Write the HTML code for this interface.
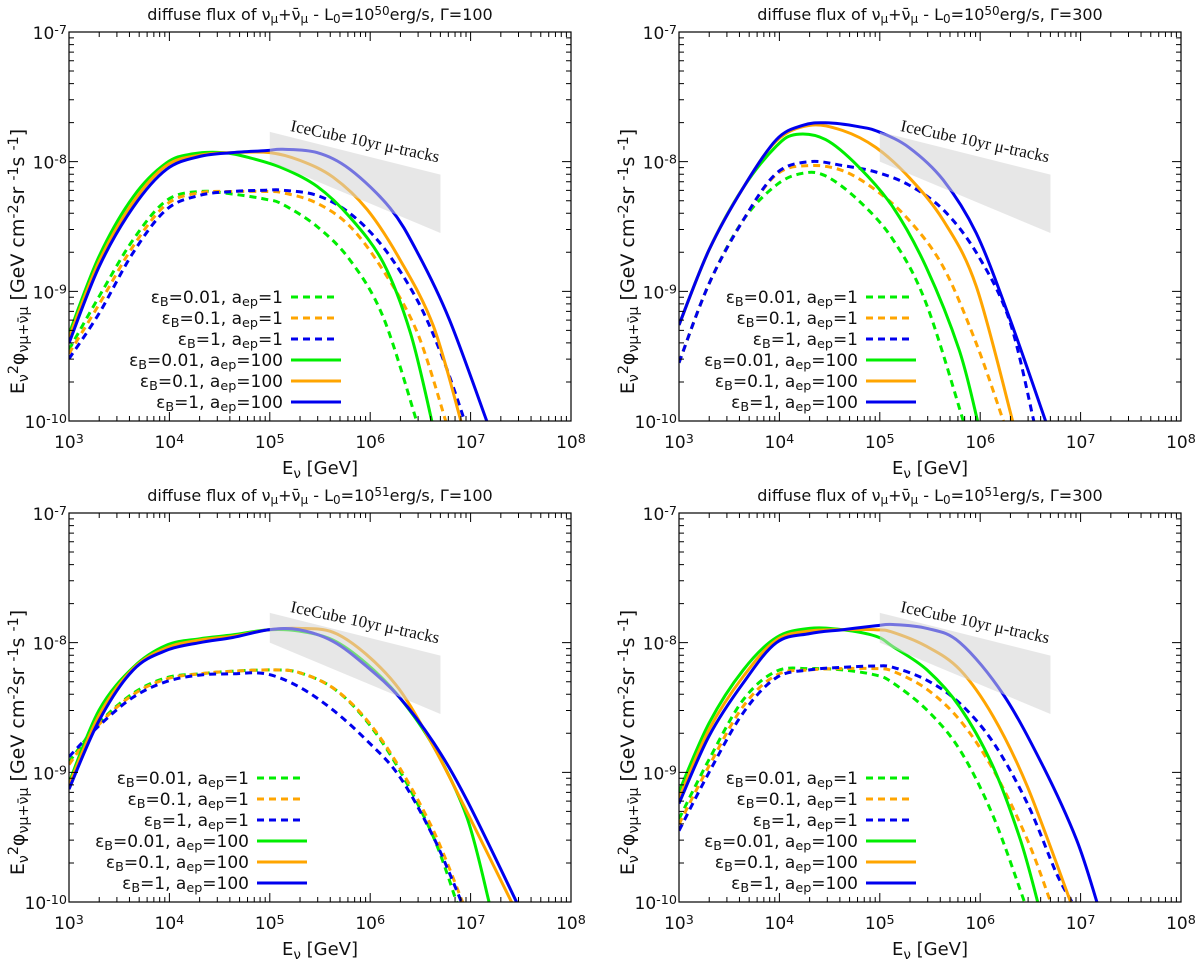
<!DOCTYPE html>
<html><head><meta charset="utf-8"><style>
html,body{margin:0;padding:0;background:#fff}
svg{display:block;font-family:"DejaVu Sans","Liberation Sans",sans-serif}
</style></head><body>
<svg id="fig" width="1200" height="963" viewBox="0 0 1200 963" xmlns="http://www.w3.org/2000/svg"></svg>
<script>
// Data: log10(E/GeV), log10(E^2 phi) pairs for each series
const xTicks = [3,4,5,6,7,8];
const yTicks = [-7,-8,-9,-10];
const titles = ["50","100","50","300","51","100","51","300"];
const legendLabels = [["0.01","1"],["0.1","1"],["1","1"],["0.01","100"],["0.1","100"],["1","100"]];

const tl_dg = [[3,-9.45],[3.3,-9.04],[3.64,-8.6],[3.97,-8.3],[4.3,-8.23],[4.63,-8.25],[4.96,-8.29],[5.13,-8.33],[5.47,-8.5],[5.8,-8.76],[6.13,-9.2],[6.47,-10.02]];
const tl_do = [[3,-9.48],[3.3,-9.1],[3.64,-8.65],[3.97,-8.33],[4.3,-8.24],[4.63,-8.23],[4.96,-8.23],[5.13,-8.24],[5.47,-8.32],[5.8,-8.5],[6.13,-8.84],[6.47,-9.32],[6.76,-10.02]];
const tl_db = [[3,-9.52],[3.3,-9.17],[3.64,-8.7],[3.97,-8.37],[4.3,-8.26],[4.63,-8.23],[4.96,-8.22],[5.13,-8.22],[5.47,-8.26],[5.8,-8.4],[6.13,-8.66],[6.47,-9.07],[6.73,-9.53],[6.95,-10.02]];
const tl_sg = [[3,-9.33],[3.3,-8.73],[3.64,-8.27],[3.97,-8.01],[4.23,-7.94],[4.53,-7.93],[4.8,-7.97],[5.13,-8.05],[5.47,-8.19],[5.8,-8.43],[6.13,-8.78],[6.4,-9.32],[6.62,-10.02]];
const tl_so = [[3,-9.36],[3.3,-8.77],[3.64,-8.31],[3.97,-8.03],[4.3,-7.95],[4.63,-7.93],[5,-7.93],[5.3,-7.99],[5.63,-8.12],[5.97,-8.37],[6.3,-8.76],[6.63,-9.27],[6.91,-10.02]];
const tl_sb = [[3,-9.4],[3.3,-8.81],[3.64,-8.35],[3.97,-8.06],[4.3,-7.96],[4.63,-7.93],[4.96,-7.915],[5.13,-7.905],[5.47,-7.93],[5.8,-8.06],[6.2,-8.36],[6.47,-8.7],[6.79,-9.22],[7.17,-10.02]];

const tr_dg = [[3,-9.55],[3.3,-8.94],[3.64,-8.45],[3.97,-8.18],[4.23,-8.09],[4.46,-8.11],[4.79,-8.3],[5.13,-8.6],[5.46,-9.09],[5.84,-10.02]];
const tr_do = [[3,-9.55],[3.3,-8.94],[3.64,-8.45],[3.97,-8.1],[4.3,-8.03],[4.63,-8.07],[4.96,-8.22],[5.29,-8.45],[5.63,-8.81],[5.96,-9.4],[6.24,-10.02]];
const tr_db = [[3,-9.55],[3.3,-8.94],[3.64,-8.45],[3.97,-8.09],[4.3,-8.0],[4.63,-8.03],[4.96,-8.08],[5.29,-8.18],[5.63,-8.37],[5.96,-8.7],[6.29,-9.22],[6.54,-10.02]];
const tr_sg = [[3,-9.26],[3.3,-8.68],[3.64,-8.2],[3.97,-7.88],[4.17,-7.79],[4.46,-7.83],[4.79,-8.04],[5.13,-8.35],[5.46,-8.81],[5.79,-9.45],[5.98,-10.02]];
const tr_so = [[3,-9.26],[3.3,-8.68],[3.64,-8.2],[3.97,-7.84],[4.3,-7.72],[4.63,-7.76],[4.96,-7.89],[5.29,-8.12],[5.63,-8.45],[5.96,-8.96],[6.33,-10.02]];
const tr_sb = [[3,-9.26],[3.3,-8.68],[3.64,-8.2],[3.97,-7.83],[4.23,-7.72],[4.46,-7.7],[4.79,-7.73],[4.99,-7.77],[5.29,-7.89],[5.63,-8.14],[5.96,-8.55],[6.29,-9.2],[6.66,-10.02]];

const bl_dg = [[3,-8.92],[3.3,-8.62],[3.64,-8.39],[3.97,-8.27],[4.3,-8.24],[4.63,-8.22],[5.03,-8.21],[5.29,-8.23],[5.63,-8.35],[5.96,-8.6],[6.29,-8.98],[6.63,-9.5],[6.87,-10.02]];
const bl_do = [[3,-8.94],[3.3,-8.63],[3.64,-8.4],[3.97,-8.28],[4.3,-8.24],[4.63,-8.22],[5.03,-8.21],[5.29,-8.23],[5.63,-8.35],[5.96,-8.59],[6.29,-8.96],[6.63,-9.45],[6.93,-10.02]];
const bl_db = [[3,-8.88],[3.3,-8.64],[3.64,-8.42],[3.97,-8.3],[4.3,-8.25],[4.63,-8.24],[4.96,-8.24],[5.29,-8.34],[5.63,-8.52],[5.96,-8.75],[6.29,-9.03],[6.63,-9.5],[6.92,-10.02]];
const bl_sg = [[3,-9.08],[3.3,-8.52],[3.64,-8.19],[3.97,-8.02],[4.3,-7.97],[4.63,-7.94],[4.99,-7.9],[5.29,-7.91],[5.63,-7.98],[5.96,-8.16],[6.29,-8.42],[6.63,-8.8],[6.96,-9.34],[7.19,-10.02]];
const bl_so = [[3,-9.1],[3.3,-8.56],[3.64,-8.2],[3.97,-8.04],[4.3,-7.98],[4.63,-7.95],[4.99,-7.9],[5.29,-7.89],[5.63,-7.92],[5.96,-8.09],[6.29,-8.36],[6.63,-8.8],[6.96,-9.3],[7.42,-10.02]];
const bl_sb = [[3,-9.13],[3.3,-8.6],[3.64,-8.21],[3.97,-8.06],[4.3,-8.0],[4.63,-7.96],[4.99,-7.9],[5.29,-7.9],[5.63,-7.99],[5.96,-8.18],[6.29,-8.42],[6.63,-8.77],[6.96,-9.21],[7.47,-10.02]];

const br_dg = [[3,-9.36],[3.3,-8.9],[3.64,-8.44],[3.97,-8.22],[4.3,-8.2],[4.63,-8.21],[4.96,-8.25],[5.13,-8.31],[5.47,-8.52],[5.8,-8.83],[6.13,-9.34],[6.45,-10.02]];
const br_do = [[3,-9.4],[3.3,-8.95],[3.64,-8.49],[3.97,-8.25],[4.3,-8.21],[4.63,-8.2],[4.96,-8.2],[5.13,-8.22],[5.47,-8.36],[5.8,-8.6],[6.13,-8.98],[6.47,-9.52],[6.71,-10.02]];
const br_db = [[3,-9.45],[3.3,-9.0],[3.64,-8.54],[3.97,-8.27],[4.3,-8.21],[4.63,-8.19],[4.96,-8.18],[5.13,-8.19],[5.47,-8.29],[5.8,-8.47],[6.13,-8.77],[6.47,-9.24],[6.76,-9.78],[6.93,-10.02]];
const br_sg = [[3,-9.15],[3.3,-8.62],[3.64,-8.21],[3.97,-7.96],[4.3,-7.89],[4.63,-7.9],[4.96,-7.95],[5.13,-8.03],[5.47,-8.21],[5.8,-8.5],[6.13,-8.96],[6.4,-9.52],[6.58,-10.02]];
const br_so = [[3,-9.2],[3.3,-8.67],[3.64,-8.26],[3.97,-7.98],[4.3,-7.91],[4.63,-7.9],[4.96,-7.9],[5.13,-7.92],[5.47,-8.03],[5.8,-8.21],[6.13,-8.57],[6.47,-9.11],[6.91,-10.02]];
const br_sb = [[3,-9.24],[3.3,-8.72],[3.64,-8.31],[3.97,-8.0],[4.3,-7.93],[4.63,-7.9],[4.96,-7.87],[5.13,-7.86],[5.47,-7.89],[5.8,-8.0],[6.23,-8.4],[6.63,-8.96],[6.96,-9.52],[7.17,-10.02]];

// IceCube band: [logE, top, bottom]
const bandE = [5, 6.7];
const bandTop = [-7.77, -8.1];
const bandBot = [-8.0, -8.55];

const panelSeries = [
  [tl_dg,tl_do,tl_db,tl_sg,tl_so,tl_sb],
  [tr_dg,tr_do,tr_db,tr_sg,tr_so,tr_sb],
  [bl_dg,bl_do,bl_db,bl_sg,bl_so,bl_sb],
  [br_dg,br_do,br_db,br_sg,br_so,br_sb]
];
const panelNames = ['tl','tr','bl','br'];
const panelBoxes = [[69,32],[679,32],[69,513],[679,513]];
const legendPos = [[283,297],[858,297],[249,778],[858,778]];
const colors = ['#00ee00','#ffa500','#0000ee','#00ee00','#ffa500','#0000ee'];
const seriesNames = ['eb001-aep1','eb01-aep1','eb1-aep1','eb001-aep100','eb01-aep100','eb1-aep100'];

const NS = 'http://www.w3.org/2000/svg';
const svg = document.getElementById('fig');
const W = 502, H = 389;
function mk(tag, attrs, parent){const e=document.createElementNS(NS,tag);for(const k in attrs)e.setAttribute(k,attrs[k]);(parent||svg).appendChild(e);return e;}
function smoothPath(pts){
  let d='M'+pts[0][0].toFixed(1)+','+pts[0][1].toFixed(1);
  for(let i=0;i<pts.length-1;i++){
    const p0=pts[Math.max(0,i-1)],p1=pts[i],p2=pts[i+1],p3=pts[Math.min(pts.length-1,i+2)];
    const c1=[p1[0]+(p2[0]-p0[0])/6,p1[1]+(p2[1]-p0[1])/6];
    const c2=[p2[0]-(p3[0]-p1[0])/6,p2[1]-(p3[1]-p1[1])/6];
    d+='C'+c1[0].toFixed(1)+','+c1[1].toFixed(1)+' '+c2[0].toFixed(1)+','+c2[1].toFixed(1)+' '+p2[0].toFixed(1)+','+p2[1].toFixed(1);
  }
  return d;
}
function richText(parent, parts, attrs){
  const t=mk('text',attrs,parent);
  parts.forEach(p=>{
    const s=mk('tspan',{},t);
    if(p[1]==='sub'){s.setAttribute('baseline-shift','-25%');s.setAttribute('font-size','75%');}
    if(p[1]==='sup'){s.setAttribute('baseline-shift','40%');s.setAttribute('font-size','75%');}
    s.textContent=p[0];
  });
  return t;
}

panelNames.forEach((pn,pi)=>{
  const [ox,oy]=panelBoxes[pi];
  const xs=v=>ox+(v-3)/5*W;
  const ys=v=>oy+(-7-v)/3*H;
  const g=mk('g',{});
  
  
  mk('clipPath',{id:'clip'+pi},g);
  mk('rect',{x:ox,y:oy,width:W,height:H},g.lastChild);

  const tt=richText(g,[['diffuse flux of ν'],['μ','sub'],['+ν̄'],['μ','sub'],[' - L'],['0','sub'],['=10'],[titles[pi*2],'sup'],['erg/s, Γ='+titles[pi*2+1]]],
    {x:ox+W/2,y:oy-12,'text-anchor':'middle','font-size':16,fill:'#111'});
  
  

  const cg=mk('g',{'clip-path':'url(#clip'+pi+')'},g);
  panelSeries[pi].forEach((ser,si)=>{
    const pts=ser.map(p=>[xs(p[0]),ys(p[1])]);
    const path=mk('path',{d:smoothPath(pts),fill:'none',stroke:colors[si],'stroke-width':3,'stroke-dasharray':si<3?'7,5':'none'},cg);
    
    
  });
  const bp=mk('polygon',{points:[[xs(bandE[0]),ys(bandTop[0])],[xs(bandE[1]),ys(bandTop[1])],[xs(bandE[1]),ys(bandBot[1])],[xs(bandE[0]),ys(bandBot[0])]].map(p=>p.join(',')).join(' '),fill:'#d4d4d4','fill-opacity':0.55,stroke:'none'},g);
  
  
  const bx=xs(bandE[0])+20, by=ys(bandTop[0])-1;
  const bt=mk('text',{x:bx,y:by,'font-family':'"Liberation Serif",serif','font-size':17,fill:'#111',transform:'rotate(12 '+bx+' '+by+')'},g);
  bt.textContent='IceCube 10yr μ-tracks';
  
  

  const fr=mk('rect',{x:ox,y:oy,width:W,height:H,fill:'none',stroke:'#000','stroke-width':1.2},g);
  
  
  let td='';
  for(let d=3;d<8;d++){for(let m=1;m<10;m++){const v=d+Math.log10(m);const x=xs(v);const L=m===1?9:5;
    if(m===1&&d===3)continue; td+=`M${x},${oy+H}v${-L}M${x},${oy}v${L}`;}}
  for(let d=-10;d<-7;d++){for(let m=1;m<10;m++){const v=d+Math.log10(m);const y=ys(v);const L=m===1?9:5;
    if(m===1&&d===-10)continue; td+=`M${ox},${y}h${L}M${ox+W},${y}h${-L}`;}}
  mk('path',{d:td,stroke:'#000','stroke-width':1,fill:'none'},g);

  xTicks.forEach(v=>{
    const t=richText(g,[['10'],[String(v),'sup']],{x:xs(v),y:oy+H+27,'text-anchor':'middle','font-size':17,fill:'#111'});
    
    
  });
  yTicks.forEach(v=>{
    const t=richText(g,[['10'],[String(v),'sup']],{x:ox-2,y:ys(v)+7,'text-anchor':'end','font-size':17,fill:'#111'});
    
    
  });
  const xl=richText(g,[['E'],['ν','sub'],[' [GeV]']],{x:ox+W/2,y:oy+H+53,'text-anchor':'middle','font-size':18,fill:'#111'});
  
  
  const yl=richText(g,[['E'],['ν','sub'],['2','sup'],['φ'],['ν','sub'],['μ','sub'],['+ν̄','sub'],['μ','sub'],[' [GeV cm'],['-2','sup'],['sr '],['-1','sup'],['s '],['-1','sup'],[']']],
    {x:0,y:0,'text-anchor':'middle','font-size':19,fill:'#111',transform:`translate(${ox-45},${oy+H/2+35}) rotate(-90)`});
  
  

  const [lx,ly]=legendPos[pi];
  legendLabels.forEach((lab,li)=>{
    const y=ly+li*21;
    const lg=mk('g',{},g);
    
    
    richText(lg,[['ε'],['B','sub'],['='+lab[0]+', a'],['ep','sub'],['='+lab[1]]],{x:lx,y:y+6,'text-anchor':'end','font-size':17,fill:'#111'});
    mk('line',{x1:lx+8,x2:lx+(li<3?52:58),y1:y,y2:y,stroke:colors[li],'stroke-width':3,'stroke-dasharray':li<3?'7,5':'none'},lg);
  });
});
</script>
</body></html>
